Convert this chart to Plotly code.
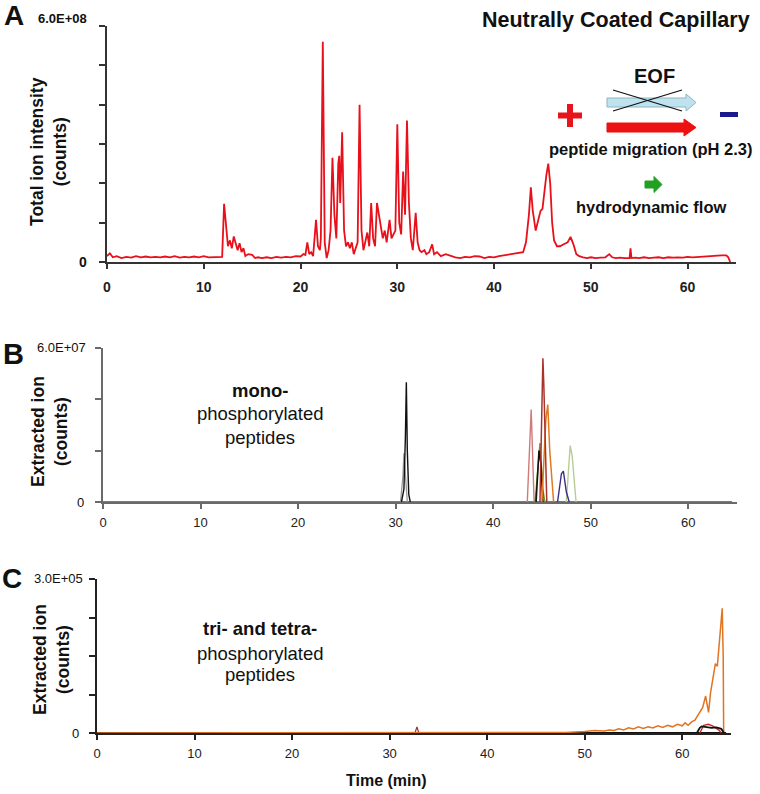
import numpy as np
import plotly.graph_objects as go

FONT = "Liberation Sans, Arial, sans-serif"
W, H = 760, 794

# ---------------- data ----------------
# Panel A: total ion electropherogram (intensity in units of 1e8 counts)
tic_time = [0.0, 0.3, 0.6, 1.0, 1.5, 2.0, 2.5, 3.0, 3.5, 4.0, 4.5, 5.0, 5.5, 6.0, 6.5, 7.0, 7.5, 8.0,
            8.5, 9.0, 9.5, 10.0, 10.5, 11.0, 11.5, 11.9,
            12.1, 12.3, 12.5, 12.7, 12.9, 13.1, 13.3, 13.5, 13.7, 13.9, 14.1, 14.3, 14.6, 15.0, 15.3,
            15.6, 16.0, 16.5, 17.0, 17.5, 18.0, 18.5, 19.0, 19.5, 20.0, 20.3, 20.5, 20.7, 20.9, 21.1,
            21.3, 21.6, 21.8, 22.0, 22.1, 22.3, 22.5, 22.7, 22.9, 23.1, 23.3, 23.5, 23.7, 23.9, 24.0,
            24.1, 24.3, 24.5, 24.7, 24.9, 25.1, 25.3, 25.5, 25.7, 25.9, 26.1, 26.3, 26.5, 26.7, 26.9,
            27.1, 27.3, 27.5, 27.7, 27.9, 28.1, 28.3, 28.5, 28.7, 28.9, 29.2, 29.4, 29.6, 29.8, 30.0,
            30.2, 30.4, 30.6, 30.8, 31.0, 31.2, 31.4, 31.6, 31.9, 32.1, 32.3, 32.5, 32.8, 33.0, 33.3,
            33.6, 33.8, 34.1, 34.5, 35.0, 35.5, 36.0, 36.5, 37.0, 37.5, 38.0, 38.5, 39.0, 39.5, 40.0,
            40.5, 41.0, 41.5, 42.0, 42.5, 43.0, 43.3, 43.6, 43.8, 44.0, 44.3, 44.6, 44.8, 45.0, 45.2,
            45.4, 45.6, 45.8, 46.0, 46.2, 46.5, 46.8, 47.2, 47.6, 47.9, 48.2, 48.5, 48.8, 49.2, 49.6,
            50.0, 50.5, 51.0, 51.5, 51.9, 52.2, 52.6, 53.0, 53.5, 54.0, 54.1, 54.2, 54.6, 55.0, 55.5,
            56.0, 56.5, 57.0, 57.5, 58.0, 58.5, 59.0, 59.5, 60.0, 60.5, 61.0, 61.5, 62.0, 62.5, 63.0,
            63.5, 64.0, 64.2, 64.4]
tic_e8 = [0.15, 0.22, 0.12, 0.15, 0.10, 0.13, 0.11, 0.15, 0.12, 0.14, 0.12, 0.13, 0.12, 0.14, 0.12, 0.15, 0.11, 0.13,
          0.12, 0.14, 0.12, 0.15, 0.12, 0.13, 0.14, 0.13,
          1.48, 0.90, 0.40, 0.55, 0.35, 0.65, 0.50, 0.30, 0.48, 0.25, 0.35, 0.15, 0.20, 0.18, 0.10,
          0.12, 0.10, 0.12, 0.10, 0.13, 0.11, 0.13, 0.12, 0.15, 0.14, 0.20, 0.18, 0.50, 0.20, 0.25,
          0.15, 1.07, 0.40, 0.30, 0.60, 5.60, 0.50, 0.10, 0.30, 0.80, 2.65, 1.20, 0.60, 2.50, 2.70,
          1.50, 3.30, 0.80, 0.40, 0.50, 0.35, 0.50, 0.20, 0.35, 0.50, 4.00, 0.80, 0.30, 0.50, 0.75,
          0.40, 1.50, 0.60, 0.40, 1.50, 1.20, 1.00, 0.60, 0.80, 0.50, 1.07, 0.60, 0.70, 0.80, 3.50,
          1.00, 0.70, 2.30, 1.20, 3.60, 1.50, 0.60, 0.30, 1.25, 0.50, 0.30, 0.25, 0.30, 0.20, 0.25,
          0.45, 0.20, 0.25, 0.15, 0.20, 0.15, 0.12, 0.10, 0.13, 0.12, 0.15, 0.14, 0.10, 0.13, 0.12,
          0.15, 0.17, 0.18, 0.20, 0.22, 0.25, 0.50, 1.20, 1.90, 1.30, 0.80, 1.10, 1.30, 1.35, 1.80,
          2.20, 2.50, 2.00, 1.00, 0.55, 0.40, 0.40, 0.45, 0.50, 0.64, 0.45, 0.20, 0.15, 0.12, 0.10,
          0.12, 0.10, 0.11, 0.12, 0.20, 0.12, 0.10, 0.11, 0.10, 0.10, 0.35, 0.10, 0.11, 0.10, 0.12,
          0.10, 0.11, 0.12, 0.10, 0.12, 0.11, 0.12, 0.11, 0.13, 0.12, 0.13, 0.14, 0.14, 0.15, 0.16,
          0.17, 0.17, 0.12, 0.00]

# Panel B: extracted ion traces, mono-phosphorylated peptides (units of 1e7 counts)
b_base_t = [0.0, 64.5]
b_base_v = [0.0, 0.0]
b_grey_t = [30.5, 30.75, 30.85, 31.0, 31.2]
b_grey_v = [0.0, 1.0, 1.9, 1.0, 0.0]
b_black1_t = [30.6, 30.85, 31.0, 31.1, 31.2, 31.35, 31.5]
b_black1_v = [0.0, 0.5, 2.5, 4.67, 2.0, 0.3, 0.0]
b_rose_t = [43.5, 43.9, 44.2]
b_rose_v = [0.0, 3.6, 0.0]
b_olive_t = [44.3, 44.8, 45.1, 45.3]
b_olive_v = [0.0, 2.3, 0.5, 0.0]
b_black2_t = [44.4, 44.7, 44.9, 45.1]
b_black2_v = [0.0, 2.0, 1.5, 0.0]
b_darkred_t = [44.8, 45.1, 45.2, 45.5]
b_darkred_v = [0.0, 5.6, 4.5, 0.0]
b_orange_t = [45.0, 45.4, 45.6, 45.8, 46.2]
b_orange_v = [0.0, 3.2, 3.8, 2.0, 0.0]
b_navy_t = [46.6, 47.0, 47.2, 47.5, 47.8]
b_navy_v = [0.0, 1.1, 1.2, 0.4, 0.0]
b_lgreen_t = [47.5, 47.9, 48.1, 48.5]
b_lgreen_v = [0.0, 2.2, 1.8, 0.0]

# Panel C: extracted ion traces, tri- and tetra-phosphorylated peptides (units of 1e5 counts)
c_base_t = [0.0, 64.5]
c_base_v = [0.0, 0.0]
c_brown_t = [32.6, 32.8, 33.0]
c_brown_v = [0.0, 0.12, 0.0]
c_orange_t = [0.0, 45.0, 48.0, 50.0, 51.0, 52.0, 52.5, 53.0, 53.5, 54.0, 54.5, 55.0, 55.5, 56.0, 56.5,
              57.0, 57.5, 58.0, 58.5, 59.0, 59.5, 60.0, 60.3, 60.6, 61.0, 61.3, 61.6, 61.9, 62.1, 62.4,
              62.6, 62.7, 62.9, 63.2, 63.4, 63.6, 63.8, 64.0, 64.1, 64.2, 64.25]
c_orange_v = [0.0, 0.0, 0.01, 0.03, 0.05, 0.04, 0.06, 0.05, 0.08, 0.06, 0.10, 0.08, 0.12, 0.09, 0.12,
              0.10, 0.14, 0.11, 0.15, 0.12, 0.17, 0.14, 0.20, 0.15, 0.22, 0.25, 0.35, 0.45, 0.50, 0.72,
              0.50, 0.40, 0.78, 1.10, 1.35, 1.30, 1.70, 2.20, 2.43, 1.50, 0.0]
c_black_t = [61.5, 61.8, 62.0, 62.5, 63.0, 63.5, 64.0, 64.3]
c_black_v = [0.0, 0.10, 0.13, 0.12, 0.10, 0.11, 0.08, 0.0]
c_red_t = [61.8, 62.2, 62.7, 63.2, 63.8, 64.0]
c_red_v = [0.0, 0.15, 0.17, 0.13, 0.05, 0.0]

x_ticks = [0, 10, 20, 30, 40, 50, 60]

# ---------------- figure ----------------
fig = go.Figure()

def px_x(p):
    return p / W

def px_y(p):
    return 1 - p / H

# Panel A
fig.add_trace(go.Scatter(x=tic_time, y=np.array(tic_e8) * 1e8, mode="lines",
                         line=dict(color="#e8101a", width=1.8), xaxis="x", yaxis="y",
                         showlegend=False, hoverinfo="skip"))

# Panel B
b_series = [
    (b_base_t, b_base_v, "#7a7a7a", 2.0),
    (b_grey_t, b_grey_v, "#9a9a9a", 1.3),
    (b_black1_t, b_black1_v, "#111111", 1.4),
    (b_rose_t, b_rose_v, "#cf7a78", 1.4),
    (b_lgreen_t, b_lgreen_v, "#b6cc96", 1.4),
    (b_navy_t, b_navy_v, "#3b2f86", 1.4),
    (b_olive_t, b_olive_v, "#6d9a2e", 1.4),
    (b_black2_t, b_black2_v, "#111111", 1.6),
    (b_orange_t, b_orange_v, "#e07a22", 1.5),
    (b_darkred_t, b_darkred_v, "#a8342c", 1.5),
]
for t, v, c, w in b_series:
    fig.add_trace(go.Scatter(x=t, y=np.array(v) * 1e7, mode="lines", line=dict(color=c, width=w),
                             xaxis="x2", yaxis="y2", showlegend=False, hoverinfo="skip"))

# Panel C
c_series = [
    (c_base_t, c_base_v, "#111111", 2.0),
    (c_brown_t, c_brown_v, "#8a3a2a", 1.2),
    (c_orange_t, c_orange_v, "#e07422", 1.5),
    (c_red_t, c_red_v, "#c0282a", 1.4),
    (c_black_t, c_black_v, "#111111", 1.8),
]
for t, v, c, w in c_series:
    fig.add_trace(go.Scatter(x=t, y=np.array(v) * 1e5, mode="lines", line=dict(color=c, width=w),
                             xaxis="x3", yaxis="y3", showlegend=False, hoverinfo="skip"))

def xaxis(dom, anchor, bold, lcolor, size, standoff):
    return dict(domain=dom, anchor=anchor, range=[0, 65], tickvals=x_ticks,
                ticktext=[("<b>%d</b>" % v) if bold else str(v) for v in x_ticks],
                ticks="outside", ticklen=5, tickwidth=1.5, tickcolor=lcolor,
                showline=True, linecolor=lcolor, linewidth=2, showgrid=False, zeroline=False,
                tickfont=dict(family=FONT, size=size, color="#222222"), ticklabelstandoff=standoff,
                automargin=False, fixedrange=True)

def yaxis(dom, anchor, top, n, lcolor):
    vals = [top * i / n for i in range(n + 1)]
    return dict(domain=dom, anchor=anchor, range=[0, top], tickvals=vals, showticklabels=False,
                ticks="outside", ticklen=6, tickwidth=1.5, tickcolor=lcolor,
                showline=True, linecolor=lcolor, linewidth=2, showgrid=False, zeroline=False,
                automargin=False, fixedrange=True)

fig.update_layout(
    template="none",
    width=W, height=H, margin=dict(l=0, r=0, t=0, b=0, pad=0),
    paper_bgcolor="white", plot_bgcolor="rgba(0,0,0,0)",
    xaxis=xaxis([px_x(107), px_x(736)], "y", True, "#333333", 14, 6),
    yaxis=yaxis([px_y(262), px_y(26)], "x", 6e8, 6, "#333333"),
    xaxis2=xaxis([px_x(103), px_x(737)], "y2", False, "#6a6a6a", 13, 2),
    yaxis2=yaxis([px_y(502), px_y(348)], "x2", 6e7, 3, "#6a6a6a"),
    xaxis3=xaxis([px_x(97), px_x(731)], "y3", False, "#222222", 13, 2),
    yaxis3=yaxis([px_y(733), px_y(579)], "x3", 3e5, 4, "#222222"),
    font=dict(family=FONT),
    showlegend=False,
)

ann = []

def text(x, y, s, size, bold=False, color="#111111", angle=0, xanchor="center", yanchor="middle", align="center"):
    ann.append(dict(x=px_x(x), y=px_y(y), xref="paper", yref="paper", text=("<b>%s</b>" % s) if bold else s,
                    showarrow=False, font=dict(family=FONT, size=size, color=color), textangle=angle,
                    xanchor=xanchor, yanchor=yanchor, align=align))

# panel letters
text(14, 16, "A", 28, True)
text(13, 354, "B", 29, True)
text(12, 578, "C", 28, True)
# y tick labels (zero and full-scale)
text(83, 262, "0", 14, True)
text(80, 502, "0", 13)
text(75, 733, "0", 13)
text(63, 18, "6.0E+08", 13, True)
text(61, 348, "6.0E+07", 13)
text(58, 578, "3.0E+05", 13)
# y axis titles
text(48, 152, "Total ion intensity<br>(counts)", 17.5, True, angle=-90)
text(49, 432, "Extracted ion<br>(counts)", 17.5, True, angle=-90)
text(51, 660, "Extracted ion<br>(counts)", 17.5, True, angle=-90)
# x title
text(386, 780, "Time (min)", 16, True)
# panel A annotations
text(616, 20, "Neutrally Coated Capillary", 21.5, True)
text(654, 76, "EOF", 20, True)
text(651, 149, "peptide migration (pH 2.3)", 16.5, True)
text(651, 207, "hydrodynamic flow", 16.5, True)
# panel B / C labels
text(260, 390, "mono-", 18.5, True)
text(260, 413, "phosphorylated", 18.5)
text(260, 437, "peptides", 18.5)
text(260, 628, "tri- and tetra-", 18.5, True)
text(260, 653, "phosphorylated", 18.5)
text(260, 674, "peptides", 18.5)

fig.update_layout(annotations=ann)

def P(x, y):
    return "%f %f" % (px_x(x), px_y(y))

def path(pts):
    return "M " + " L ".join(P(x, y) for x, y in pts) + " Z"

shapes = []
# light blue EOF arrow
shapes.append(dict(type="path", xref="paper", yref="paper",
                   path=path([(607, 98), (686, 98), (686, 94), (696, 102.5), (686, 111), (686, 107), (607, 107)]),
                   fillcolor="#bfe3ee", line=dict(color="#8fb4c4", width=1)))
# cross over EOF arrow
shapes.append(dict(type="line", xref="paper", yref="paper", x0=px_x(613), y0=px_y(90), x1=px_x(682), y1=px_y(111),
                   line=dict(color="#111111", width=1.3)))
shapes.append(dict(type="line", xref="paper", yref="paper", x0=px_x(613), y0=px_y(111), x1=px_x(682), y1=px_y(90),
                   line=dict(color="#111111", width=1.3)))
# red migration arrow
shapes.append(dict(type="path", xref="paper", yref="paper",
                   path=path([(607, 123), (684, 123), (684, 119), (696, 127.5), (684, 136), (684, 132), (607, 132)]),
                   fillcolor="#ee1111", line=dict(color="#ee1111", width=1)))
# plus sign
shapes.append(dict(type="rect", xref="paper", yref="paper", x0=px_x(558), x1=px_x(582), y0=px_y(112.5), y1=px_y(118.5),
                   fillcolor="#e8141c", line=dict(width=0)))
shapes.append(dict(type="rect", xref="paper", yref="paper", x0=px_x(567), x1=px_x(573), y0=px_y(104), y1=px_y(127),
                   fillcolor="#e8141c", line=dict(width=0)))
# minus sign
shapes.append(dict(type="rect", xref="paper", yref="paper", x0=px_x(720), x1=px_x(738), y0=px_y(112), y1=px_y(117),
                   fillcolor="#1a1a8c", line=dict(width=0)))
# green arrow
shapes.append(dict(type="path", xref="paper", yref="paper",
                   path=path([(645, 181), (654, 181), (654, 176.5), (662, 184.5), (654, 192.5), (654, 188), (645, 188)]),
                   fillcolor="#22a022", line=dict(color="#22a022", width=1)))
fig.update_layout(shapes=shapes)

# remove the browser's default page margin so the 760x794 figure fills the window exactly
fig.write_html("out.html", config={"displayModeBar": False},
               post_script="document.body.style.margin='0';document.body.style.padding='0';")
